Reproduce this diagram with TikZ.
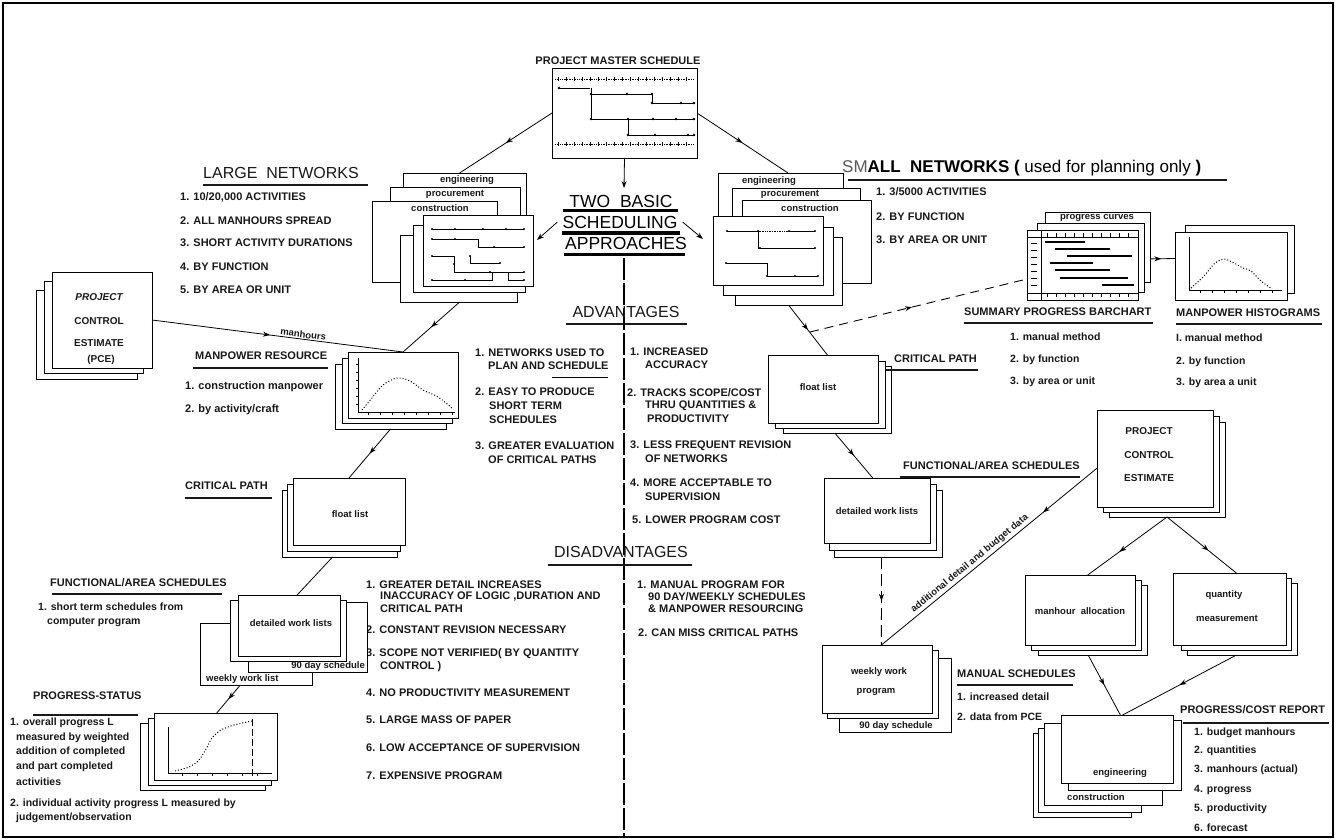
\documentclass[tikz,border=0pt]{standalone}
\usepackage{fontspec}
\setmainfont{Liberation Sans}
\usetikzlibrary{arrows.meta,decorations.markings,calc}
% a blank sheet given by its corners (x1,y1) (x2,y2), y measured downwards
\newcommand\sheetbox[5]{\node[sheet,anchor=north west,minimum width={(#4-#2)*1pt},minimum height={(#5-#3)*1pt}] (#1) at (#2,#3) {};}
\tikzset{
  sheet/.style={draw=black, fill=white, line width=0.9pt, inner sep=0pt, outer sep=0pt},
  conn/.style={draw=black, line width=0.8pt},
  dashconn/.style={draw=black, line width=0.9pt, dash pattern=on 9pt off 6pt},
  arrowend/.style={-{Stealth[length=7pt,width=5pt]}},
  midarr/.style={postaction={decorate}, decoration={markings, mark=at position #1 with {\arrow{Stealth[length=7pt,width=5pt]}}}},
  midarr/.default=0.5,
  bodytxt/.style={font=\bfseries\fontsize{11}{12}\selectfont, anchor=west, inner sep=0pt, text=black!90},
  smalltxt/.style={font=\bfseries\fontsize{10.5}{11}\selectfont, anchor=west, inner sep=0pt, text=black!90},
  boxtxt/.style={font=\bfseries\fontsize{9.5}{10}\selectfont, inner sep=0pt, text=black!90},
  headtxt/.style={font=\fontsize{16}{17}\selectfont, inner sep=0pt, text=black!90},
  bighead/.style={font=\fontsize{17.5}{18}\selectfont, inner sep=0pt, text=black},
  headrule/.style={line width=1.2pt, black!90},
  netline/.style={line width=0.7pt},
}
\begin{document}
\begin{tikzpicture}[x=1pt,y=-1pt]
\useasboundingbox (0,0) rectangle (1336,840);
\fill[white] (0,0) rectangle (1336,840);
\draw[line width=2.6pt] (3,3) rectangle (1333,837);

% ================= project master schedule
\node[boxtxt, font=\bfseries\fontsize{11}{12}\selectfont] (pmsTitle) at (618,61) {PROJECT MASTER SCHEDULE};
\sheetbox{pms}{552}{68}{697}{158}
\draw[netline, densely dotted] (555,79) -- (694,79);
\foreach \x in {558,566,...,692} \draw[netline] (\x,77) -- (\x,81);
\draw[netline, densely dotted] (555,144) -- (694,144);
\foreach \x in {558,566,...,692} \draw[netline] (\x,142) -- (\x,146);
\draw[netline] (559,88) -- (590,88);
\draw[netline] (591,88) -- (591,119);
\draw[netline] (591,94) -- (652,94) -- (652,103) -- (695,103);
\draw[netline] (591,119) -- (695,119);
\draw[netline] (628,119) -- (628,135) -- (695,135);
\foreach \p in {(559,88),(591,94),(627,94),(652,94),(652,103),(681,103),(694,103),(591,119),(628,119),(653,119),(676,119),(694,119),(628,135),(655,135),(688,135),(694,135)} \fill \p circle (1.3pt);

% ================= two basic approaches
\node[bighead] (tb1) at (621,201) {TWO\ \ BASIC};
\node[bighead] (tb2) at (620,222) {SCHEDULING};
\node[bighead] (tb3) at (626,243) {APPROACHES};
\draw[line width=3.5pt] (563,210.5) -- (678,210.5);
\draw[line width=4.5pt] (562,233) -- (680,233);
\draw[line width=3pt] (564,254) -- (685,254);
\coordinate (tbTop) at (624,188);
\coordinate (lnPt) at (537,240);
\coordinate (snPt) at (703,239);
\draw[conn,arrowend] (pms.south) -- (tbTop);
\draw[conn,arrowend] ([xshift=-5pt]tb2.west) -- (lnPt);
\draw[conn,arrowend] ([xshift=5pt]tb2.east) -- (snPt);

% central divider
\coordinate (clTop) at (624,258);
\coordinate (clBot) at (624,836);
\draw[line width=1.3pt, dash pattern=on 22pt off 3pt] (clTop) -- (clBot);

% ================= advantages
\node[headtxt] (adv) at (626,312) {ADVANTAGES};
\draw[headrule] (566,324) -- (687,324);
\node[bodytxt] (al1) at (475,353) {1. NETWORKS USED TO};
\node[bodytxt] (al2) at (488,366) {PLAN AND SCHEDULE};
\draw[line width=0.9pt] (552,377) -- (608,377);
\node[bodytxt] (al3) at (475,392) {2. EASY TO PRODUCE};
\node[bodytxt] (al4) at (489,406) {SHORT TERM};
\node[bodytxt] (al5) at (489,420) {SCHEDULES};
\node[bodytxt] (al6) at (475,446) {3. GREATER EVALUATION};
\node[bodytxt] (al7) at (488,460) {OF CRITICAL PATHS};
\node[bodytxt] (ar1) at (630,352) {1. INCREASED};
\node[bodytxt] (ar2) at (645,365) {ACCURACY};
\node[bodytxt] (ar3) at (627,393) {2. TRACKS SCOPE/COST};
\node[bodytxt] (ar4) at (645,406) {THRU QUANTITIES \&};
\node[bodytxt] (ar5) at (647,419) {PRODUCTIVITY};
\node[bodytxt] (ar6) at (630,446) {3. LESS FREQUENT REVISION};
\node[bodytxt] (ar7) at (645,459) {OF NETWORKS};
\node[bodytxt] (ar8) at (630,483) {4. MORE ACCEPTABLE TO};
\node[bodytxt] (ar9) at (645,497) {SUPERVISION};
\node[bodytxt] (ar10) at (632,520) {5. LOWER PROGRAM COST};

% ================= disadvantages
\node[headtxt] (dis) at (621,552) {DISADVANTAGES};
\draw[headrule] (548,565) -- (692,565);
\node[bodytxt] (dl1) at (366,585) {1. GREATER DETAIL INCREASES};
\node[bodytxt] (dl2) at (380,597) {INACCURACY OF LOGIC ,DURATION AND};
\node[bodytxt] (dl3) at (380,609) {CRITICAL PATH};
\node[bodytxt] (dl4) at (366,630) {2. CONSTANT REVISION NECESSARY};
\node[bodytxt] (dl5) at (366,654) {3. SCOPE NOT VERIFIED( BY QUANTITY};
\node[bodytxt] (dl6) at (380,667) {CONTROL )};
\node[bodytxt] (dl7) at (366,693) {4. NO PRODUCTIVITY MEASUREMENT};
\node[bodytxt] (dl8) at (366,720) {5. LARGE MASS OF PAPER};
\node[bodytxt] (dl9) at (366,748) {6. LOW ACCEPTANCE OF SUPERVISION};
\node[bodytxt] (dl10) at (366,776) {7. EXPENSIVE PROGRAM};
\node[bodytxt] (dr1) at (637,585) {1. MANUAL PROGRAM FOR};
\node[bodytxt] (dr2) at (648,597) {90 DAY/WEEKLY SCHEDULES};
\node[bodytxt] (dr3) at (648,609) {\& MANPOWER RESOURCING};
\node[bodytxt] (dr4) at (638,633) {2. CAN MISS CRITICAL PATHS};

% ================= large networks
\node[headtxt, anchor=west] (lnHead) at (203,173) {LARGE\ \ NETWORKS};
\draw[headrule] (203,185) -- (368,185);
\node[bodytxt] (ln1) at (180,197) {1. 10/20,000 ACTIVITIES};
\node[bodytxt] (ln2) at (180,221) {2. ALL MANHOURS SPREAD};
\node[bodytxt] (ln3) at (180,243) {3. SHORT ACTIVITY DURATIONS};
\node[bodytxt] (ln4) at (180,267) {4. BY FUNCTION};
\node[bodytxt] (ln5) at (180,290) {5. BY AREA OR UNIT};

\sheetbox{lnEng}{403}{173}{526}{240}
\sheetbox{lnProc}{390}{187}{520}{250}
\sheetbox{lnCons}{372}{201}{497}{282}
\sheetbox{lnS3}{400}{235}{517}{302}
\sheetbox{lnS2}{413}{225}{525}{292}
\sheetbox{lnS1}{423}{215}{533}{286}
\node[boxtxt] (lnEngL) at (467,180) {engineering};
\node[boxtxt] (lnProcL) at (455,194) {procurement};
\node[boxtxt] (lnConsL) at (440,208) {construction};
\draw[netline] (432,229) -- (524,229);
\draw[netline] (432,239) -- (478,239) -- (478,247) -- (524,247);
\draw[netline] (432,256) -- (454,256) -- (454,272) -- (524,272);
\draw[netline] (470,256) -- (470,263) -- (500,263);
\draw[netline] (432,280) -- (492,280) -- (492,272);
\draw[netline] (508,272) -- (508,280) -- (524,280);
\foreach \p in {(432,229),(455,229),(483,229),(506,229),(524,229),(432,239),(455,239),(494,247),(524,247),(432,256),(454,264),(470,256),(500,263),(490,272),(524,272),(432,280),(465,280),(524,280)} \fill \p circle (1.2pt);

\draw[conn,midarr] (pms.west) -- ($(lnEng.north west)!0.46!(lnEng.north east)$);

% ================= project control estimate (left)
\sheetbox{pceB2}{36}{290}{137}{379}
\sheetbox{pceB1}{44}{281}{143}{373}
\sheetbox{pceF}{52}{272}{152}{368}
\node[boxtxt, font=\bfseries\itshape\fontsize{10}{11}\selectfont] (pceL1) at (99,297) {PROJECT};
\node[boxtxt, font=\bfseries\fontsize{10}{11}\selectfont] (pceL2) at (99,321) {CONTROL};
\node[boxtxt, font=\bfseries\fontsize{10}{11}\selectfont] (pceL3) at (99,343) {ESTIMATE};
\node[boxtxt, font=\bfseries\fontsize{10}{11}\selectfont] (pceL4) at (101,360) {(PCE)};

% ================= manpower resource
\node[bodytxt] (mpHead) at (195,356) {MANPOWER RESOURCE};
\draw[headrule] (193,368) -- (328,368);
\node[bodytxt] (mp1) at (185,387) {1. construction manpower};
\node[bodytxt] (mp2) at (185,410) {2. by activity/craft};
\sheetbox{mpB2}{335}{364}{446}{429}
\sheetbox{mpB1}{342}{358}{452}{423}
\sheetbox{mpF}{348}{352}{458}{418}
\draw[netline] (358,358) -- (358,412) -- (455,412);
\foreach \x in {368,380,...,452} \draw[netline] (\x,412) -- (\x,415);
\foreach \y in {364,372,...,404} \draw[netline] (356,\y) -- (358,\y);
\draw[line width=1pt, dotted] plot[smooth] coordinates {(362,410) (372,398) (383,385) (397,378) (410,381) (423,390) (438,397) (452,408)};

\draw[conn,midarr=0.47] (pceF.east) -- node[sloped, above=1pt, pos=0.6, boxtxt] (mhLbl) {manhours} (mpF.north);
\draw[conn,midarr] ($(lnS3.south west)!0.51!(lnS3.south east)$) -- (mpF.north);

% ================= critical path (left)
\node[bodytxt] (cpHead) at (185,486) {CRITICAL PATH};
\draw[headrule] (185,498) -- (272,498);
\sheetbox{cpB2}{282}{490}{397}{557}
\sheetbox{cpB1}{287}{484}{400}{551}
\sheetbox{cpF}{293}{478}{405}{545}
\node[boxtxt] (cpL) at (350,514) {float list};
\draw[conn,midarr] ($(mpB2.south west)!0.5!(mpB2.south east)$) -- (cpF.north);

% ================= functional / area schedules (left)
\node[bodytxt] (faHead) at (50,583) {FUNCTIONAL/AREA SCHEDULES};
\draw[headrule] (52,594) -- (222,594);
\node[smalltxt] (fa1) at (38,607) {1. short term schedules from};
\node[smalltxt] (fa2) at (47,622) {computer program};
\sheetbox{fW}{200}{623}{312}{685}
\sheetbox{f90}{248}{602}{367}{672}
\sheetbox{fMid}{230}{600}{346}{661}
\sheetbox{fF}{238}{595}{340}{656}
\node[boxtxt] (fFL) at (291,623) {detailed work lists};
\node[boxtxt, anchor=east] (f90L) at (365,666.5) {90 day schedule};
\node[boxtxt, anchor=west] (fWL) at (206,679.5) {weekly work list};
\draw[conn] ($(cpB2.south west)!0.44!(cpB2.south east)$) -- ($(fF.north west)!0.58!(fF.north east)$);

% ================= progress status
\node[bodytxt] (psHead) at (33,696) {PROGRESS-STATUS};
\draw[headrule] (33,715) -- (138,715);
\node[smalltxt] (ps1) at (10,723) {1. overall progress L};
\node[smalltxt] (ps2) at (16,738) {measured by weighted};
\node[smalltxt] (ps3) at (16,752) {addition of completed};
\node[smalltxt] (ps4) at (16,767) {and part completed};
\node[smalltxt] (ps5) at (16,782) {activities};
\node[smalltxt] (ps6) at (10,804) {2. individual activity progress L measured by};
\node[smalltxt] (ps7) at (16,818) {judgement/observation};
\sheetbox{prB2}{140}{723}{265}{790}
\sheetbox{prB1}{148}{718}{271}{785}
\sheetbox{prF}{154}{713}{277}{780}
\draw[netline] (168,727) -- (168,773) -- (272,773);
\foreach \x in {182,197,...,270} \draw[netline] (\x,773) -- (\x,776);
\draw[line width=1pt, dotted] plot[smooth] coordinates {(175,771) (189,767) (199,760) (206,749) (212,738) (221,730) (234,725) (252,721)};
\draw[line width=0.9pt, dash pattern=on 7pt off 3pt] (252,719) -- (252,776);
\draw[conn,midarr] ($(fW.south west)!0.36!(fW.south east)$) -- ($(prF.north west)!0.51!(prF.north east)$);

% ================= small networks
\node[anchor=west, inner sep=0pt, font=\fontsize{17}{18}\selectfont] (snHead) at (842,168)
  {\textcolor{black!65}{SM}\textbf{ALL\ \ NETWORKS\ (}\ used\ for\ planning\ only\ \textbf{)}};
\draw[headrule] (848,180) -- (1227,180);
\node[bodytxt] (sn1) at (876,192) {1. 3/5000 ACTIVITIES};
\node[bodytxt] (sn2) at (876,217) {2. BY FUNCTION};
\node[bodytxt] (sn3) at (876,240) {3. BY AREA OR UNIT};
\sheetbox{snEng}{718}{173}{843}{240}
\sheetbox{snProc}{732}{188}{860}{250}
\sheetbox{snCons}{742}{200}{871}{283}
\sheetbox{snS3}{735}{237}{842}{305}
\sheetbox{snS2}{723}{227}{833}{295}
\sheetbox{snS1}{713}{216}{823}{285}
\node[boxtxt] (snEngL) at (769,181) {engineering};
\node[boxtxt] (snProcL) at (790,194) {procurement};
\node[boxtxt] (snConsL) at (810,208) {construction};
\draw[netline] (727,231) -- (760,231);
\draw[netline, densely dotted] (760,231) -- (789,231);
\draw[netline] (789,231) -- (815,231);
\draw[netline] (758,231) -- (758,248) -- (815,248);
\draw[netline] (726,263) -- (767,263) -- (767,276) -- (818,276);
\foreach \p in {(727,231),(758,231),(789,231),(815,231),(760,248),(815,248),(726,263),(767,276),(795,276),(818,276)} \fill \p circle (1.2pt);
\draw[conn,midarr] (pms.east) -- ($(snEng.north west)!0.56!(snEng.north east)$);

% ================= summary progress barchart
\sheetbox{bcPC}{1045}{212}{1150}{282}
\sheetbox{bcMid}{1037}{223}{1144}{292}
\sheetbox{bcF}{1027}{230}{1138}{300}
\node[boxtxt] (bcPCL) at (1097,218) {progress curves};
\draw[netline] (1041,230) -- (1041,300);
\draw[netline] (1027,237) -- (1138,237);
\draw[netline] (1027,293) -- (1138,293);
\foreach \x in {1047,1056,...,1134} {\draw[netline] (\x,233) -- (\x,237); \draw[netline] (\x,293) -- (\x,297);}
\foreach \y in {243,250,...,288} \draw[netline] (1031,\y) -- (1037,\y);
\draw[line width=1.2pt] (1045,242) -- (1085,242);
\draw[line width=1.2pt] (1055,249) -- (1110,249);
\draw[line width=1.2pt] (1067,256) -- (1132,256);
\draw[line width=2pt] (1050,263) -- (1093,263);
\draw[line width=1.2pt] (1055,270) -- (1110,270);
\draw[line width=1.2pt] (1060,278) -- (1128,278);
\draw[line width=1.2pt] (1102,285) -- (1134,285);
\node[bodytxt] (bcHead) at (964,312) {SUMMARY PROGRESS BARCHART};
\draw[headrule] (964,323) -- (1153,323);
\node[smalltxt] (bc1) at (1010,337) {1. manual method};
\node[smalltxt] (bc2) at (1010,360) {2. by function};
\node[smalltxt] (bc3) at (1010,382) {3. by area or unit};

% ================= manpower histograms
\sheetbox{hB}{1185}{225}{1294}{293}
\sheetbox{hF}{1175}{232}{1287}{300}
\draw[netline] (1189,237) -- (1189,290) -- (1282,290);
\foreach \x in {1200,1212,...,1278} \draw[netline] (\x,290) -- (\x,293);
\draw[line width=1pt, dotted] plot[smooth] coordinates {(1191,288) (1204,276) (1214,264) (1224,259) (1234,263) (1243,268) (1251,271) (1261,281) (1272,289)};
\node[bodytxt] (hHead) at (1176,313) {MANPOWER HISTOGRAMS};
\draw[headrule] (1176,324) -- (1322,324);
\node[smalltxt] (h1) at (1176,338) {I. manual method};
\node[smalltxt] (h2) at (1176,362) {2. by function};
\node[smalltxt] (h3) at (1176,383) {3. by area a unit};
\draw[conn,midarr=0.45] ($(bcPC.north east)!0.67!(bcPC.south east)$) -- ($(hF.north west)!0.39!(hF.south west)$);

% ================= critical path (right)
\sheetbox{flB2}{783}{366}{891}{433}
\sheetbox{flB1}{775}{361}{885}{428}
\sheetbox{flF}{768}{355}{878}{423}
\node[boxtxt] (flL) at (818,387) {float list};
\node[bodytxt] (fcHead) at (894,359) {CRITICAL PATH};
\draw[headrule] (886,370) -- (978,370);
\draw[conn,midarr] ($(snS3.south west)!0.5!(snS3.south east)$) -- ($(flF.north west)!0.54!(flF.north east)$);
\coordinate (dStart) at (810,332);
\draw[dashconn,midarr=0.47] (dStart) -- ($(bcF.south west)!0.3!(bcF.north west)$);

% ================= functional / area schedules (right)
\node[bodytxt] (frHead) at (903,466) {FUNCTIONAL/AREA SCHEDULES};
\draw[headrule] (900,477) -- (1080,477);
\sheetbox{dwB2}{834}{490}{942}{557}
\sheetbox{dwB1}{829}{484}{936}{550}
\sheetbox{dwF}{824}{478}{930}{543}
\node[boxtxt] (dwL) at (877,511) {detailed work lists};
\draw[conn,midarr] ($(flB2.south west)!0.48!(flB2.south east)$) -- ($(dwF.north west)!0.46!(dwF.north east)$);

% ================= manual schedules
\sheetbox{wp90}{839}{658}{951}{732}
\sheetbox{wpB1}{827}{650}{938}{718}
\sheetbox{wpF}{822}{645}{932}{713}
\node[boxtxt] (wpL1) at (879,672) {weekly work};
\node[boxtxt] (wpL2) at (876,692) {program};
\node[boxtxt] (wp90L) at (896,726) {90 day schedule};
\node[bodytxt] (msHead) at (957,674) {MANUAL SCHEDULES};
\draw[headrule] (957,685) -- (1073,685);
\node[smalltxt] (ms1) at (957,697) {1. increased detail};
\node[smalltxt] (ms2) at (957,717) {2. data from PCE};
\draw[dashconn,dash pattern=on 12pt off 5pt,midarr] ($(dwB2.south west)!0.44!(dwB2.south east)$) -- ($(wpF.north west)!0.54!(wpF.north east)$);

% ================= project control estimate (right)
\sheetbox{pcB2}{1109}{422}{1225}{517}
\sheetbox{pcB1}{1103}{416}{1219}{512}
\sheetbox{pcF}{1097}{410}{1213}{507}
\node[boxtxt, font=\bfseries\fontsize{10}{11}\selectfont] (pcL1) at (1149,431) {PROJECT};
\node[boxtxt, font=\bfseries\fontsize{10}{11}\selectfont] (pcL2) at (1149,455) {CONTROL};
\node[boxtxt, font=\bfseries\fontsize{10}{11}\selectfont] (pcL3) at (1149,478) {ESTIMATE};
\draw[conn,midarr=0.25] ($(pcF.north west)!0.6!(pcF.south west)$) -- node[sloped, above=2pt, pos=0.57, boxtxt] (adLbl) {additional detail and budget data} ($(wpF.north west)!0.54!(wpF.north east)$);

% ================= manhour allocation / quantity measurement
\sheetbox{mhB2}{1038}{585}{1147}{655}
\sheetbox{mhB1}{1031}{580}{1141}{650}
\sheetbox{mhF}{1025}{575}{1135}{645}
\node[boxtxt] (mhL) at (1080,611) {manhour\ \ allocation};
\sheetbox{qmB2}{1187}{583}{1297}{655}
\sheetbox{qmB1}{1181}{578}{1291}{650}
\sheetbox{qmF}{1173}{573}{1286}{645}
\node[boxtxt] (qmL1) at (1224,595) {quantity};
\node[boxtxt] (qmL2) at (1227,618) {measurement};
\coordinate (pcApex) at ($(pcB2.south west)!0.5!(pcB2.south east)$);
\draw[conn,midarr=0.6] (pcApex) -- ($(mhF.north west)!0.57!(mhF.north east)$);
\draw[conn,midarr=0.6] (pcApex) -- ($(qmF.north west)!0.56!(qmF.north east)$);

% ================= progress / cost report
\sheetbox{pc3}{1033}{733}{1131}{817}
\sheetbox{pc2}{1038}{728}{1141}{812}
\sheetbox{pc1}{1044}{723}{1162}{805}
\node[boxtxt] (pc1L) at (1096,797) {construction};
\sheetbox{pe2}{1068}{720}{1181}{790}
\sheetbox{pe1}{1061}{715}{1173}{783}
\node[boxtxt] (pe1L) at (1120,773) {engineering};
\draw[conn,midarr] ($(mhB2.south west)!0.46!(mhB2.south east)$) -- ($(pe1.north west)!0.53!(pe1.north east)$);
\draw[conn,midarr] ($(qmB2.south west)!0.45!(qmB2.south east)$) -- ($(pe1.north west)!0.55!(pe1.north east)$);
\node[bodytxt] (prHead) at (1180,710) {PROGRESS/COST REPORT};
\draw[headrule] (1183,723) -- (1329,723);
\node[smalltxt] (pr1) at (1194,733) {1. budget manhours};
\node[smalltxt] (pr2) at (1194,751) {2. quantities};
\node[smalltxt] (pr3) at (1194,770) {3. manhours (actual)};
\node[smalltxt] (pr4) at (1194,790) {4. progress};
\node[smalltxt] (pr5) at (1194,809) {5. productivity};
\node[smalltxt] (pr6) at (1194,828) {6. forecast};
\end{tikzpicture}
\end{document}
